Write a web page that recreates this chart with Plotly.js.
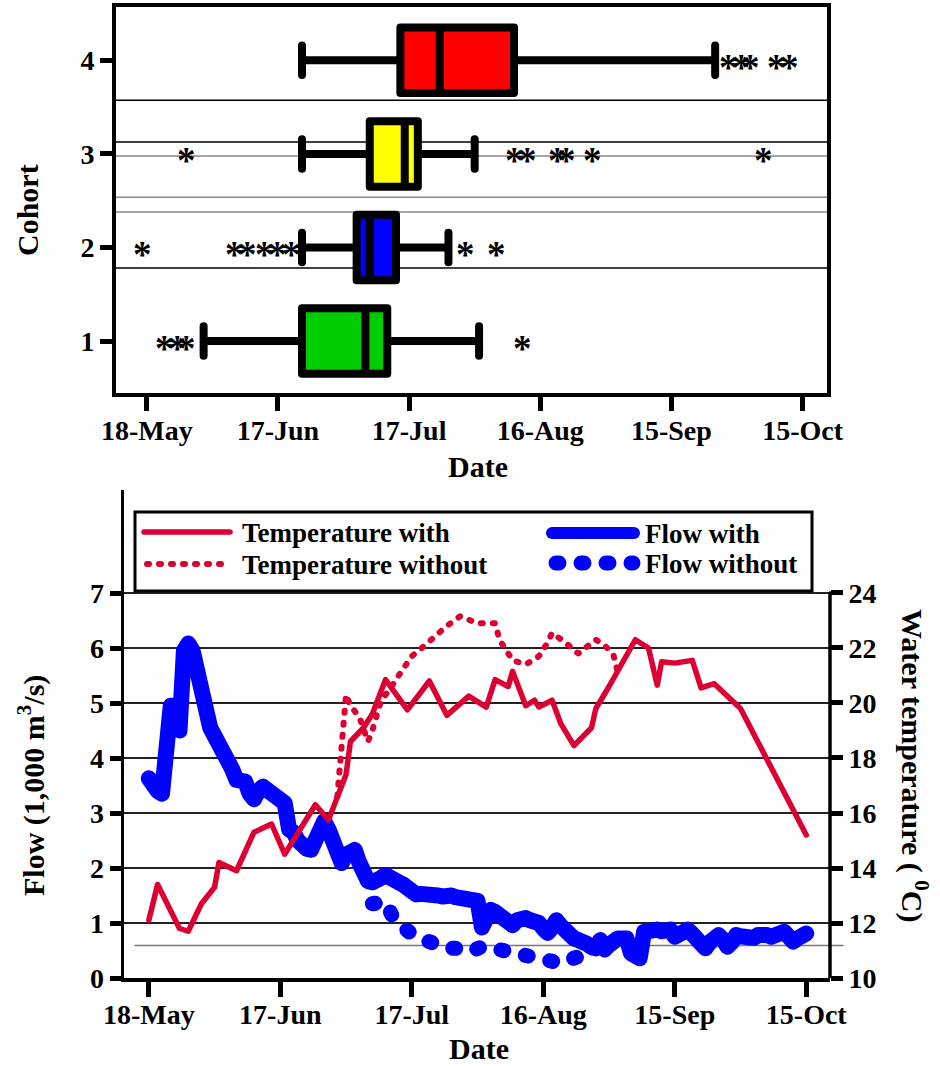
<!DOCTYPE html>
<html>
<head>
<meta charset="utf-8">
<script src="https://cdn.plot.ly/plotly-3.0.1.min.js"></script>
<style>
html,body{margin:0;padding:0;background:#fff;}
#chart{width:940px;height:1066px;}
</style>
</head>
<body>
<div id="chart"></div>
<script>
// ---------- shared ----------
const YEAR = '2010-';
const tickDates = ['05-18','06-17','07-17','08-16','09-15','10-15'];
const tickLabels = ['18-May','17-Jun','17-Jul','16-Aug','15-Sep','15-Oct'];

// ---------- top panel: cohort box plots ----------
const cohorts = [1, 2, 3, 4];
const cohortLabels = ['1', '2', '3', '4'];
const cohortColors = ['#00CC00', '#0000FF', '#FFFF00', '#FF0000'];
const lowerWhisker = ['05-31', '06-22 12:00', '06-22 12:00', '06-22 12:00'];
const quartile1    = ['06-22 12:00', '07-05', '07-08', '07-15'];
const medians      = ['07-07', '07-08', '07-16', '07-24'];
const quartile3    = ['07-12', '07-14', '07-19', '08-10'];
const upperWhisker = ['08-02', '07-26', '08-01', '09-25'];
const outliers1 = ['05-22', '05-25', '05-27', '08-12'];
const outliers2 = ['05-17', '06-07', '06-10', '06-14', '06-17', '06-20', '07-30', '08-06'];
const outliers3 = ['05-27', '08-10', '08-13', '08-20', '08-22', '08-28', '10-06'];
const outliers4 = ['09-28', '10-01', '10-03', '10-09', '10-12'];
const cohortRefLines = [3.573, 3.128, 2.979, 2.538, 2.378, 1.78];
const cohortRefColors = ['#000', '#000', '#888', '#888', '#888', '#000'];

// ---------- bottom panel: flow & temperature ----------
const seriesNames = ['Temperature with', 'Flow with', 'Temperature without', 'Flow without'];
const flowStart = '05-18';
const flowWith = [
 3.63,3.45,3.40,3.35,4.80,4.95,4.95,4.50,5.95,6.08,5.95,5.50,5.30,4.70,
 4.55,4.40,4.27,4.15,4.05,3.80,3.60,3.55,3.57,3.35,3.25,3.40,3.48,3.42,3.38,3.33,3.30,3.18,
 2.70,2.65,2.50,2.36,2.35,2.33,2.50,2.80,2.85,2.70,2.50,2.15,
 2.09,2.24,2.30,2.33,2.10,1.80,1.76,1.74,1.75,1.82,1.87,1.85,1.78,1.74,1.70,1.62,1.55,1.52,
 1.53,1.54,1.53,1.50,1.50,1.48,1.51,1.50,1.47,1.45,1.44,1.42,1.42,
 1.40,0.92,1.15,1.24,1.20,1.15,1.08,0.97,0.96,1.05,1.09,1.09,1.05,1.03,1.00,0.90,0.82,0.92,
 1.05,0.95,0.85,0.75,0.72,0.69,0.68,0.62,0.56,0.54,0.69,0.52,0.60,
 0.70,0.72,0.72,0.72,0.45,0.38,0.36,0.84,0.88,0.90,0.88,0.85,0.90,0.88,0.75,0.82,0.90,0.88,
 0.80,0.70,0.60,0.54,0.65,0.75,0.78,0.70,0.57,0.65,0.78,0.76,
 0.74,0.72,0.73,0.78,0.81,0.78,0.75,0.78,0.82,0.84,0.75,0.66,0.72,0.76,0.81
];
const flowWithoutDates = ['07-08','07-10','07-11','07-13','07-15','07-17','07-19','07-21','07-23','07-25',
 '07-27','07-29','07-31','08-02','08-04','08-06','08-08','08-10','08-12','08-14','08-16','08-18','08-20',
 '08-22','08-24','08-26','08-27'];
const flowWithout = [1.35,1.36,1.39,1.05,0.90,0.80,0.72,0.64,0.57,0.54,0.54,0.48,0.50,0.57,0.55,0.51,
 0.47,0.42,0.39,0.35,0.32,0.30,0.27,0.33,0.36,0.45,0.56];
const tempWithDates = ['05-18','05-20','05-25','05-27','05-30','06-02','06-03','06-07','06-11','06-15',
 '06-18','06-25','06-28','06-30','07-02','07-03','07-06','07-08','07-11','07-16','07-21','07-25','07-30',
 '08-03','08-05','08-08','08-09','08-12','08-14','08-15','08-18','08-20','08-23','08-27','08-28','08-31',
 '09-01','09-06','09-09','09-11','09-12','09-15','09-19','09-21','09-24','09-30','10-15'];
const tempWith = [12.1,13.4,11.8,11.7,12.7,13.3,14.2,13.9,15.3,15.6,14.5,16.3,15.75,16.6,17.4,18.6,19.1,
 19.6,20.85,19.75,20.8,19.55,20.25,19.85,20.85,20.6,21.15,19.9,20.1,19.85,20.1,19.25,18.45,19.1,19.8,
 20.6,20.9,22.3,22.0,20.65,21.5,21.45,21.55,20.55,20.7,19.8,15.2];
const tempWithoutDates = ['06-30','07-01','07-02','07-03','07-05','07-07','07-08','07-10','07-12','07-14',
 '07-17','07-20','07-22','07-25','07-28','08-01','08-05','08-06','08-08','08-09','08-12','08-15','08-17',
 '08-18','08-21','08-24','08-28','08-30','09-01','09-02'];
const tempWithout = [16.6,18.3,20.3,19.9,19.5,18.6,19.0,20.1,20.5,21.0,21.7,22.1,22.4,22.8,23.15,22.9,
 22.9,22.3,21.8,21.55,21.4,21.7,22.2,22.55,22.2,21.8,22.3,22.1,21.75,21.1];
const flowTicks = [0,1,2,3,4,5,6,7];
const tempTicks = [10,12,14,16,18,20,22,24];
const flowRefLevel = [0.59];

// ---------- helpers / styles ----------
const d = s => YEAR + s;
const W = 940, H = 1066;
const px = v => v / W, py = v => 1 - v / H;
const FONT = 'Liberation Serif, "Times New Roman", serif';
const tickFont = {family: FONT, size: 28, color: '#000', weight: 'bold'};
const RED = '#DC0032', BLUE = '#0000FF';
const seriesStyle = {
  'Temperature with':    {color: RED,  width: 5.5, dash: 'solid'},
  'Flow with':           {color: BLUE, width: 16,  dash: 'solid'},
  'Temperature without': {color: RED,  width: 6,   dash: '2px,10px'},
  'Flow without':        {color: BLUE, width: 15,  dash: '3px,22px'}
};

const data = [];
cohorts.forEach((c, i) => {
  data.push({
    type: 'box', orientation: 'h', xaxis: 'x', yaxis: 'y',
    y: [c], q1: [d(quartile1[i])], median: [d(medians[i])], q3: [d(quartile3[i])],
    lowerfence: [d(lowerWhisker[i])], upperfence: [d(upperWhisker[i])],
    boxpoints: false, width: 0.7, whiskerwidth: 0.45,
    fillcolor: cohortColors[i], line: {color: '#000', width: 8},
    showlegend: false, hoverinfo: 'skip'
  });
});
data.push({
  type: 'scatter', mode: 'lines', name: seriesNames[1], showlegend: false,
  xaxis: 'x2', yaxis: 'y2', x0: d(flowStart), dx: 86400000, y: flowWith,
  line: seriesStyle[seriesNames[1]]
});
data.push({
  type: 'scatter', mode: 'lines', name: seriesNames[3], showlegend: false,
  xaxis: 'x2', yaxis: 'y2', x: flowWithoutDates.map(d), y: flowWithout,
  line: seriesStyle[seriesNames[3]]
});
data.push({
  type: 'scatter', mode: 'lines', name: seriesNames[0], showlegend: false,
  xaxis: 'x2', yaxis: 'y3', x: tempWithDates.map(d), y: tempWith,
  line: seriesStyle[seriesNames[0]]
});
data.push({
  type: 'scatter', mode: 'lines', name: seriesNames[2], showlegend: false,
  xaxis: 'x2', yaxis: 'y3', x: tempWithoutDates.map(d), y: tempWithout,
  line: seriesStyle[seriesNames[2]]
});

const shapes = [];
cohortRefLines.forEach((v, i) => shapes.push({
  type: 'line', xref: 'paper', yref: 'y', x0: px(113), x1: px(827), y0: v, y1: v,
  line: {color: cohortRefColors[i], width: 1.5}, layer: 'below'
}));
flowRefLevel.forEach(v => shapes.push({
  type: 'line', xref: 'paper', yref: 'y2', x0: px(135), x1: px(843), y0: v, y1: v,
  line: {color: '#777', width: 1.5}, layer: 'below'
}));
shapes.push({
  type: 'line', xref: 'paper', yref: 'y3', x0: px(830), x1: px(830),
  y0: tempTicks[0], y1: tempTicks[tempTicks.length - 1],
  line: {color: '#000', width: 3.5}
});

// legend (drawn by hand: box, sample lines, labels)
shapes.push({
  type: 'rect', xref: 'paper', yref: 'paper', x0: px(135), x1: px(812), y0: py(512), y1: py(591),
  line: {color: '#000', width: 3}, fillcolor: '#fff', layer: 'above'
});
const legendSlots = [
  {x0: 144, x1: 230, y: 532, tx: 240},
  {x0: 552, x1: 634, y: 533, tx: 643},
  {x0: 147, x1: 222, y: 564, tx: 240},
  {x0: 556, x1: 633, y: 563, tx: 643}
];
const annotations = [];
seriesNames.forEach((name, i) => {
  const s = legendSlots[i], st = seriesStyle[name];
  shapes.push({
    type: 'line', xref: 'paper', yref: 'paper', x0: px(s.x0), x1: px(s.x1), y0: py(s.y), y1: py(s.y),
    line: {color: st.color, width: name === 'Flow with' ? 12 : st.width, dash: st.dash}, layer: 'above'
  });
  annotations.push({
    text: name, xref: 'paper', yref: 'paper', x: px(s.tx), y: py(s.y + 1),
    xanchor: 'left', yanchor: 'middle', showarrow: false,
    font: {family: FONT, size: 27, color: '#000', weight: 'bold'}
  });
});

// outlier asterisks, placed on the box-plot axes
[outliers1, outliers2, outliers3, outliers4].forEach((arr, i) => {
  arr.forEach(o => annotations.push({
    text: '*', xref: 'x', yref: 'y', x: d(o), y: cohorts[i], yshift: -7,
    xanchor: 'center', yanchor: 'middle', showarrow: false,
    font: {family: FONT, size: 37, color: '#000', weight: 'bold'}
  }));
});

const titleFont = {family: FONT, size: 30, color: '#000', weight: 'bold'};
const title = (text, x, y, angle) => ({
  text, xref: 'paper', yref: 'paper', x: px(x), y: py(y), textangle: angle || 0,
  xanchor: 'center', yanchor: 'middle', showarrow: false, font: titleFont
});
annotations.push(title('Cohort', 27, 210, -90));
annotations.push(title('Date', 478, 466));
annotations.push(title('Flow (1,000 m<sup>3</sup>/s)', 31, 786, -90));
annotations.push(title('Water temperature ( <sup>0</sup>C)', 915, 765, 90));
annotations.push(title('Date', 479, 1048));

const axBase = {showgrid: false, zeroline: false, tickfont: tickFont, tickcolor: '#000',
  linecolor: '#000', ticks: 'outside', automargin: false};

const layout = {
  width: W, height: H, margin: {l: 0, r: 0, t: 0, b: 0, autoexpand: false},
  paper_bgcolor: '#fff', plot_bgcolor: 'rgba(0,0,0,0)',
  font: {family: FONT, color: '#000'},
  showlegend: false,
  xaxis: Object.assign({}, axBase, {
    domain: [px(116), px(827)], anchor: 'y', type: 'date',
    range: [d('05-10 23:00'), d('10-20 14:00')],
    tickvals: tickDates.map(d), ticktext: tickLabels, ticklabelstandoff: -5,
    ticklen: 14, tickwidth: 5, showline: true, linewidth: 4, mirror: true
  }),
  yaxis: Object.assign({}, axBase, {
    domain: [py(393), py(7)], anchor: 'x', range: [0.445, 4.57],
    tickvals: cohorts, ticktext: cohortLabels,
    ticklen: 12, tickwidth: 5, showline: true, linewidth: 4, mirror: true
  }),
  xaxis2: Object.assign({}, axBase, {
    domain: [px(124), px(830)], anchor: 'y2', type: 'date',
    range: [d('05-12 08:00'), d('10-20 10:00')],
    tickvals: tickDates.map(d), ticktext: tickLabels, ticklabelstandoff: -6,
    ticklen: 15, tickwidth: 5, showline: true, linewidth: 3.5
  }),
  yaxis2: Object.assign({}, axBase, {
    domain: [py(978), py(490)], anchor: 'x2', range: [0, 8.873],
    tickvals: flowTicks, ticklen: 11, tickwidth: 5, showline: true, linewidth: 3.5,
    showgrid: true, gridcolor: '#222', gridwidth: 1.3
  }),
  yaxis3: Object.assign({}, axBase, {
    overlaying: 'y2', side: 'right', anchor: 'x2', range: [10, 27.745],
    tickvals: tempTicks, ticklen: 12, tickwidth: 5, showline: false
  }),
  shapes: shapes,
  annotations: annotations
};

Plotly.newPlot('chart', data, layout, {staticPlot: true, displayModeBar: false}).then(gd => {
  gd.querySelectorAll('path.js-line').forEach(p => {
    p.style.strokeLinecap = 'round';
    p.style.strokeLinejoin = 'round';
  });
  gd.querySelectorAll('.boxlayer path').forEach(p => {
    p.style.strokeLinecap = 'round';
    p.style.strokeLinejoin = 'round';
  });
  gd.querySelectorAll('.shapelayer path').forEach(p => {
    p.style.strokeLinecap = 'round';
  });
});
</script>
</body>
</html>
